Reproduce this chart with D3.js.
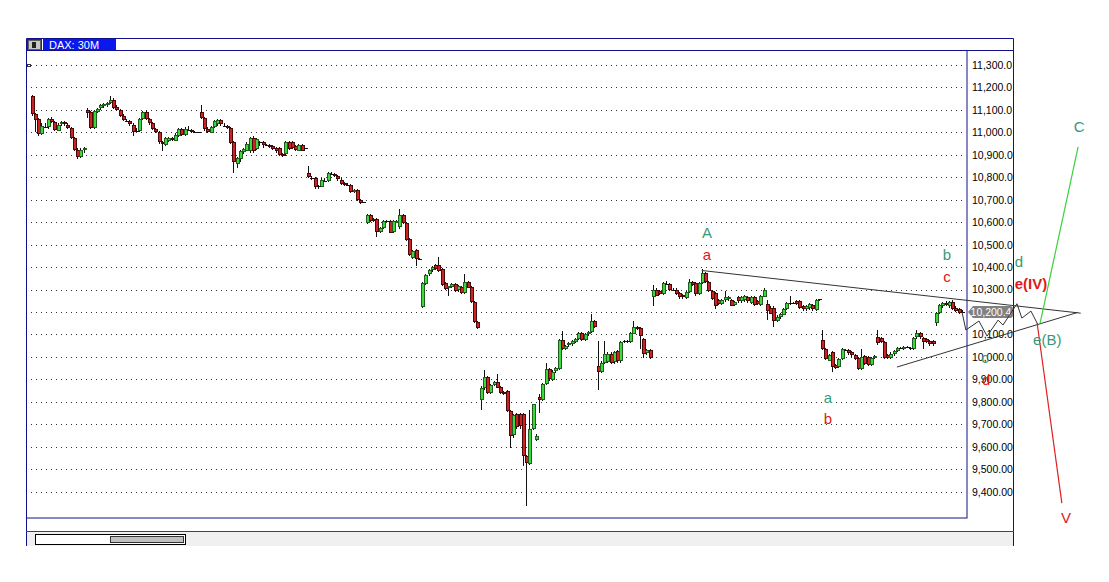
<!DOCTYPE html>
<html><head><meta charset="utf-8">
<script src="https://cdn.jsdelivr.net/npm/d3@7/dist/d3.min.js"></script>
<style>body{margin:0;background:#fff;}svg{display:block;}</style>
</head><body>
<svg id="chart" width="1109" height="582"></svg>
<script>
// ---- DATA: DAX 30M candles [open, high, low, close], grouped by session ----
const seg1 = [
[11160,11165,11075,11080],[11080,11085,11000,11055],[11060,11065,10985,10995],[10995,11040,10990,11030],
[11030,11040,11020,11025],[11025,11065,11015,11060],[11060,11070,11040,11045],[11045,11050,11005,11010],
[11010,11040,11005,11035],[11035,11050,11030,11045],[11045,11050,11030,11035],[11035,11040,11015,11020],
[11020,11025,10970,10975],[10975,10980,10915,10920],[10920,10930,10880,10890],[10890,10930,10885,10920],
[10920,10935,10910,10930]];
const seg2 = [
[11100,11110,11065,11085],[11090,11095,11015,11020],[11020,11100,11015,11095],[11090,11110,11085,11105],
[11105,11125,11100,11120],[11115,11130,11110,11125],[11120,11135,11115,11130],[11130,11160,11125,11145],
[11145,11155,11105,11110],[11115,11120,11095,11100],[11100,11105,11070,11075],[11075,11080,11050,11055],
[11055,11060,11045,11050],[11050,11055,11030,11035],[11035,11040,10985,11005],[11010,11020,11000,11005],
[11005,11065,11000,11060],[11060,11095,11055,11090],[11090,11100,11055,11060],[11060,11065,11035,11040],
[11040,11045,11010,11015],[11015,11020,10995,11000],[11000,11005,10950,10955],[10955,10960,10915,10945],
[10945,10980,10940,10975],[10960,10980,10955,10975],[10975,10980,10960,10965],[10965,10995,10960,10990],
[10985,11020,10980,11015],[11015,11020,10985,10990],[10990,11025,10985,11015],[11015,11030,11005,11010],
[11010,11015,10995,11000],[11000,11005,10995,11000],[11000,11002,10998,11000]];
const seg3 = [
[11090,11120,11060,11065],[11065,11070,11005,11015],[11015,11025,10995,11000],[11000,11030,10995,11025],
[11025,11055,11020,11050],[11035,11060,11030,11055],[11055,11060,11030,11035],[11035,11040,11025,11030],
[11030,11035,11015,11020],[11020,11025,10950,10955],[10955,10960,10820,10865],[10860,10890,10840,10885],
[10880,10920,10870,10915],[10910,10930,10905,10925],[10920,10955,10915,10950],[10915,10980,10910,10975],
[10975,10985,10910,10915],[10925,10975,10920,10970],[10950,10960,10940,10955],[10955,10960,10930,10940],
[10945,10950,10940,10945],[10945,10950,10930,10935],[10940,10945,10920,10925],[10930,10935,10910,10915],
[10930,10935,10895,10900],[10905,10910,10890,10895],[10900,10960,10895,10955],[10955,10960,10920,10925],
[10955,10960,10925,10930],[10940,10945,10915,10920],[10920,10950,10915,10945],[10945,10950,10915,10920],
[10925,10930,10925,10930]];
const seg4 = [
[10820,10850,10795,10800],[10800,10805,10790,10795],[10795,10800,10750,10755],[10755,10765,10750,10760],
[10760,10795,10755,10790],[10790,10795,10780,10785],[10785,10825,10780,10820],[10820,10825,10810,10815],
[10815,10820,10800,10805],[10805,10810,10785,10790],[10790,10795,10765,10770],[10775,10780,10760,10765],
[10770,10775,10760,10765],[10765,10770,10730,10735],[10735,10750,10730,10745],[10745,10750,10695,10700],
[10700,10705,10680,10685],[10688,10690,10685,10688]];
const seg5 = [
[10595,10635,10590,10630],[10630,10635,10600,10605],[10615,10620,10600,10605],[10615,10620,10535,10555],
[10555,10580,10550,10575],[10575,10610,10570,10605],[10605,10610,10600,10607],[10607,10612,10550,10555],
[10555,10610,10550,10605],[10600,10610,10595,10607],[10575,10660,10570,10630],[10630,10635,10590,10595],
[10595,10600,10515,10520],[10525,10530,10450,10455],[10440,10475,10435,10470],[10475,10480,10405,10435],
[10435,10440,10430,10435]];
const seg6 = [
[10225,10335,10220,10330],[10325,10370,10320,10365],[10365,10390,10360,10385],[10385,10405,10380,10400],
[10410,10415,10385,10390],[10410,10445,10380,10385],[10390,10395,10315,10320],[10330,10335,10300,10305],
[10305,10315,10270,10315],[10310,10330,10305,10325],[10325,10330,10290,10295],[10295,10320,10290,10315],
[10310,10315,10280,10285],[10285,10370,10280,10335],[10335,10340,10305,10310],[10310,10315,10240,10245],
[10245,10250,10150,10155],[10155,10160,10125,10130]];
const seg7 = [
[9805,9870,9765,9860],[9860,9940,9855,9910],[9910,9915,9835,9840],[9840,9880,9835,9875],
[9875,9895,9870,9890],[9890,9925,9860,9865],[9865,9870,9835,9840],[9845,9850,9830,9835],
[9850,9855,9755,9760],[9760,9765,9595,9650],[9650,9745,9640,9740],[9745,9750,9680,9685],
[9745,9750,9680,9690],[9745,9750,9515,9560],[9560,9565,9335,9530],[9525,9765,9520,9680],
[9680,9790,9675,9790],[9630,9655,9625,9650],[9820,9835,9750,9805],[9810,9885,9805,9880],
[9880,9975,9875,9945],[9945,9950,9895,9900],[9900,9940,9895,9935],[9935,9955,9930,9950],
[9945,10080,9940,10075],[10075,10115,10030,10035],[10035,10055,10030,10050],[10050,10065,10045,10060],
[10055,10075,10050,10070],[10065,10085,10060,10080],[10080,10110,10075,10105],[10105,10110,10070,10075],
[10075,10105,10070,10100],[10100,10115,10095,10110],[10110,10190,10105,10160],[10160,10165,10130,10135]];
const seg8 = [
[9960,10070,9855,9935],[9935,9980,9930,9975],[9975,10070,9970,10015],[9980,10020,9975,10015],
[10015,10020,9970,9975],[9975,10025,9970,10020],[10025,10030,9975,9980],[9980,10070,9975,10065],
[10065,10075,10060,10070],[10065,10075,10060,10070],[10065,10110,10060,10105],[10105,10160,10100,10135],
[10135,10140,10120,10125],[10130,10135,10035,10095],[10080,10085,9995,10015],[10015,10035,10010,10030],
[10030,10035,9990,9995]];
const seg9 = [
[10270,10320,10225,10300],[10300,10305,10270,10275],[10295,10300,10275,10280],[10280,10335,10275,10330],
[10330,10340,10320,10325],[10325,10330,10295,10300],[10300,10305,10295,10300],[10300,10305,10275,10280],
[10285,10290,10260,10265],[10275,10280,10260,10265],[10265,10295,10260,10290],[10290,10345,10285,10335],
[10335,10340,10315,10320],[10330,10335,10270,10280],[10280,10335,10275,10330],[10330,10390,10325,10375],
[10375,10380,10330,10335],[10335,10340,10290,10295],[10295,10300,10255,10260],[10285,10290,10215,10225],
[10255,10260,10230,10235],[10235,10260,10230,10255],[10250,10295,10245,10265],[10255,10270,10250,10265],
[10255,10260,10225,10230],[10230,10250,10225,10245],[10265,10270,10240,10245],[10245,10270,10240,10265],
[10250,10275,10245,10270],[10265,10270,10240,10245],[10240,10270,10235,10265],[10265,10270,10225,10230],
[10250,10255,10230,10235],[10230,10275,10225,10270],[10270,10305,10265,10300],[10235,10255,10165,10205],
[10220,10225,10190,10195],[10220,10225,10135,10160],[10160,10185,10155,10180],[10175,10195,10170,10190],
[10190,10220,10185,10215],[10215,10245,10210,10240],[10235,10270,10230,10240],[10240,10245,10235,10240],
[10250,10255,10230,10235],[10250,10255,10215,10220],[10225,10230,10205,10210],[10210,10230,10205,10225],
[10215,10240,10210,10235],[10230,10235,10205,10210],[10210,10260,10205,10255],[10255,10260,10250,10256]];
const seg10 = [
[10075,10120,10030,10035],[10035,10040,9985,9990],[9985,10015,9980,10010],[10020,10025,9935,9955],
[9965,9970,9945,9950],[9955,9995,9950,9990],[9990,10040,9985,10035],[10030,10035,10025,10030],
[10030,10035,10010,10015],[10020,10025,10000,10005],[10010,10015,9985,9990],[9995,10000,9940,9945],
[9945,10035,9940,10000],[10005,10010,9965,9970],[10000,10005,9960,9965],[9965,10000,9960,9995],
[9995,10010,9990,10005]];
const seg11 = [
[10090,10120,10055,10065],[10085,10090,10060,10065],[10065,10070,9990,9995],[10010,10015,9990,9995],
[9995,10020,9990,10015],[10010,10030,10005,10025],[10025,10045,10020,10040],[10040,10045,10035,10040],
[10035,10050,10030,10045],[10045,10050,10040,10045],[10035,10045,10030,10040],[10035,10090,10030,10085],
[10085,10120,10080,10105],[10105,10110,10080,10085],[10085,10090,10035,10065],[10080,10085,10060,10065],
[10070,10075,10050,10055],[10070,10075,10050,10055]];
const seg12 = [
[10150,10200,10140,10195],[10195,10235,10190,10230],[10225,10245,10220,10240],[10240,10250,10225,10230],
[10225,10250,10220,10245],[10245,10255,10210,10215],[10220,10225,10200,10205],[10215,10220,10190,10195],
[10205,10210,10195,10200.4]];

const priceTicks = [11300,11200,11100,11000,10900,10800,10700,10600,10500,10400,10300,10200,10100,10000,9900,9800,9700,9600,9500,9400];
const lastPrice = 10200.4;

// Elliott wave annotations: [bar index, price]
const upperTrend = [[206,10385],[322.5,10195]];
const lowerTrend = [[266,9955],[321.5,10198]];
const projection = [[286,10200],[287.2,10120],[291.2,10160],[293.7,10093],[297.1,10164],[298.6,10142],[302.9,10237],[304.4,10173],[307.2,10204],[309.4,10142]];
const waveC = [[310,10150],[321.7,10935]];
const waveV = [[309.1,10150],[316.7,9349]];
const waveLabels = [
  {t:"A", i:207.6, p:10552, c:"teal"}, {t:"a", i:207.6, p:10454, c:"red"},
  {t:"a", i:244.8, p:9817, c:"teal"},  {t:"b", i:244.8, p:9723, c:"red"},
  {t:"b", i:281.4, p:10454, c:"teal"}, {t:"c", i:281.4, p:10356, c:"red"},
  {t:"c", i:293.1, p:9995, c:"teal"},  {t:"d", i:293.4, p:9897, c:"red"},
  {t:"d", i:303.5, p:10423, c:"teal"}, {t:"e(IV)", i:307.2, p:10325, c:"red", b:true},
  {t:"e(B)", i:312.2, p:10075, c:"teal"},
  {t:"C", i:322, p:11024, c:"teal"},   {t:"V", i:318, p:9282, c:"red"}
];

// ---- DRAW ----
const segments = [seg1,seg2,seg3,seg4,seg5,seg6,seg7,seg8,seg9,seg10,seg11,seg12];
const candles = segments.flat().map((d,i)=>({i, o:d[0], h:d[1], l:d[2], c:d[3]}));
const N = candles.length;

const svg = d3.select("#chart");
const navy = "#10108a";
const x = d3.scaleLinear().domain([0, N-1]).range([31.7, 962]);
const y = d3.scaleLinear().domain([9400, 11300]).range([491.7, 65]);
const colors = {teal:"#3a9878", red:"#e01818"};
const font = "'Liberation Sans', Arial, sans-serif";

// frame
svg.append("rect").attr("x",26).attr("y",532).attr("width",988).attr("height",14).attr("fill","#f0f0f0");
svg.append("path").attr("d","M26.5,546 V38.5 H1013.5 V546").attr("fill","none").attr("stroke",navy);
svg.append("line").attr("x1",26).attr("x2",1014).attr("y1",50.5).attr("y2",50.5).attr("stroke",navy);
svg.append("rect").attr("x",26.5).attr("y",50.5).attr("width",940.5).attr("height",467.5).attr("fill","none").attr("stroke",navy);
svg.append("line").attr("x1",26).attr("x2",1014).attr("y1",531.5).attr("y2",531.5).attr("stroke","#2040c0");
// scrollbar
svg.append("rect").attr("x",35.5).attr("y",534.5).attr("width",150).attr("height",10).attr("fill","#fff").attr("stroke","#000");
svg.append("rect").attr("x",110.5).attr("y",536.5).attr("width",73).attr("height",6).attr("fill","#c0c0c0").attr("stroke","#333");

// title bar
svg.append("rect").attr("x",27).attr("y",39).attr("width",89).attr("height",11).attr("fill","#0a18f0");
svg.append("rect").attr("x",28.5).attr("y",40.5).attr("width",12).attr("height",9).attr("fill","#c8c8c8").attr("stroke","#606060");
svg.append("rect").attr("x",32).attr("y",42).attr("width",4).attr("height",6).attr("fill","#222");
svg.append("line").attr("x1",42.5).attr("x2",42.5).attr("y1",39).attr("y2",50).attr("stroke","#fff");
svg.append("text").attr("x",49).attr("y",48.5).attr("fill","#fff")
  .style("font","11px "+font).text("DAX: 30M");

// small marker
svg.append("rect").attr("x",27.5).attr("y",64.5).attr("width",3).attr("height",2).attr("fill","#fff").attr("stroke","#333");

// grid
svg.append("g").selectAll("line").data(priceTicks).join("line")
  .attr("x1",31).attr("x2",966)
  .attr("y1",d=>Math.round(y(d))+0.5).attr("y2",d=>Math.round(y(d))+0.5)
  .attr("stroke","#333").attr("stroke-dasharray","1,4");

// axis
const fmt = v => v >= 10000 ? d3.format(",.1f")(v) : d3.format(",.2f")(v);
const ax = svg.append("g").attr("transform","translate(972,0)")
  .call(d3.axisRight(y).tickValues(priceTicks).tickFormat(fmt).tickSize(0).tickPadding(0));
ax.select(".domain").remove();
ax.selectAll("text").attr("fill","#000").style("font","10.5px "+font);

// candles
const cg = svg.append("g").attr("shape-rendering","crispEdges");
cg.selectAll("line.w").data(candles).join("line").attr("class","w")
  .attr("x1",d=>Math.round(x(d.i))+0.5).attr("x2",d=>Math.round(x(d.i))+0.5)
  .attr("y1",d=>y(d.h)).attr("y2",d=>y(d.l)).attr("stroke","#111");
cg.selectAll("rect.b").data(candles.filter(d=>Math.abs(y(d.o)-y(d.c))>=1.5)).join("rect").attr("class","b")
  .attr("x",d=>Math.round(x(d.i))-0.5).attr("width",3)
  .attr("y",d=>Math.round(y(Math.max(d.o,d.c)))+0.5)
  .attr("height",d=>Math.max(1,Math.round(Math.abs(y(d.o)-y(d.c)))-1))
  .attr("fill",d=>d.c>=d.o?"#3cd83c":"#cc2424")
  .attr("stroke",d=>d.c>=d.o?"#1f5e1f":"#4a0808");
cg.selectAll("line.dj").data(candles.filter(d=>Math.abs(y(d.o)-y(d.c))<1.5)).join("line").attr("class","dj")
  .attr("x1",d=>Math.round(x(d.i))-1).attr("x2",d=>Math.round(x(d.i))+3)
  .attr("y1",d=>Math.round(y(d.c))+0.5).attr("y2",d=>Math.round(y(d.c))+0.5).attr("stroke","#111");

// annotations
const line = d3.line().x(d=>x(d[0])).y(d=>y(d[1]));
svg.append("path").attr("d",line(upperTrend)).attr("fill","none").attr("stroke","#333").attr("stroke-width",1);
svg.append("path").attr("d",line(lowerTrend)).attr("fill","none").attr("stroke","#333").attr("stroke-width",1);

// price tag
const ty = y(lastPrice);
svg.append("path").attr("d",`M968,${ty} L973,${ty-6} H1010 Q1013,${ty-6} 1013,${ty-3} V${ty+3} Q1013,${ty+6} 1010,${ty+6} H973 Z`)
  .attr("fill","#808080");
svg.append("text").attr("x",991).attr("y",ty).attr("dy","0.35em").attr("text-anchor","middle")
  .attr("fill","#fff").style("font","10.5px "+font).text(d3.format(",.1f")(lastPrice));

svg.append("path").attr("d",line(projection)).attr("fill","none").attr("stroke","#333").attr("stroke-width",1);
svg.append("path").attr("d",line(waveC)).attr("fill","none").attr("stroke","#3ad23a").attr("stroke-width",1.2);
svg.append("path").attr("d",line(waveV)).attr("fill","none").attr("stroke","#e02020").attr("stroke-width",1.2);

svg.append("g").selectAll("text").data(waveLabels).join("text")
  .attr("x",d=>x(d.i)).attr("y",d=>y(d.p)).attr("dy","0.35em").attr("text-anchor","middle")
  .attr("fill",d=>colors[d.c])
  .style("font",d=>(d.b?"bold ":"")+"15px "+font)
  .text(d=>d.t);
</script>
</body></html>
